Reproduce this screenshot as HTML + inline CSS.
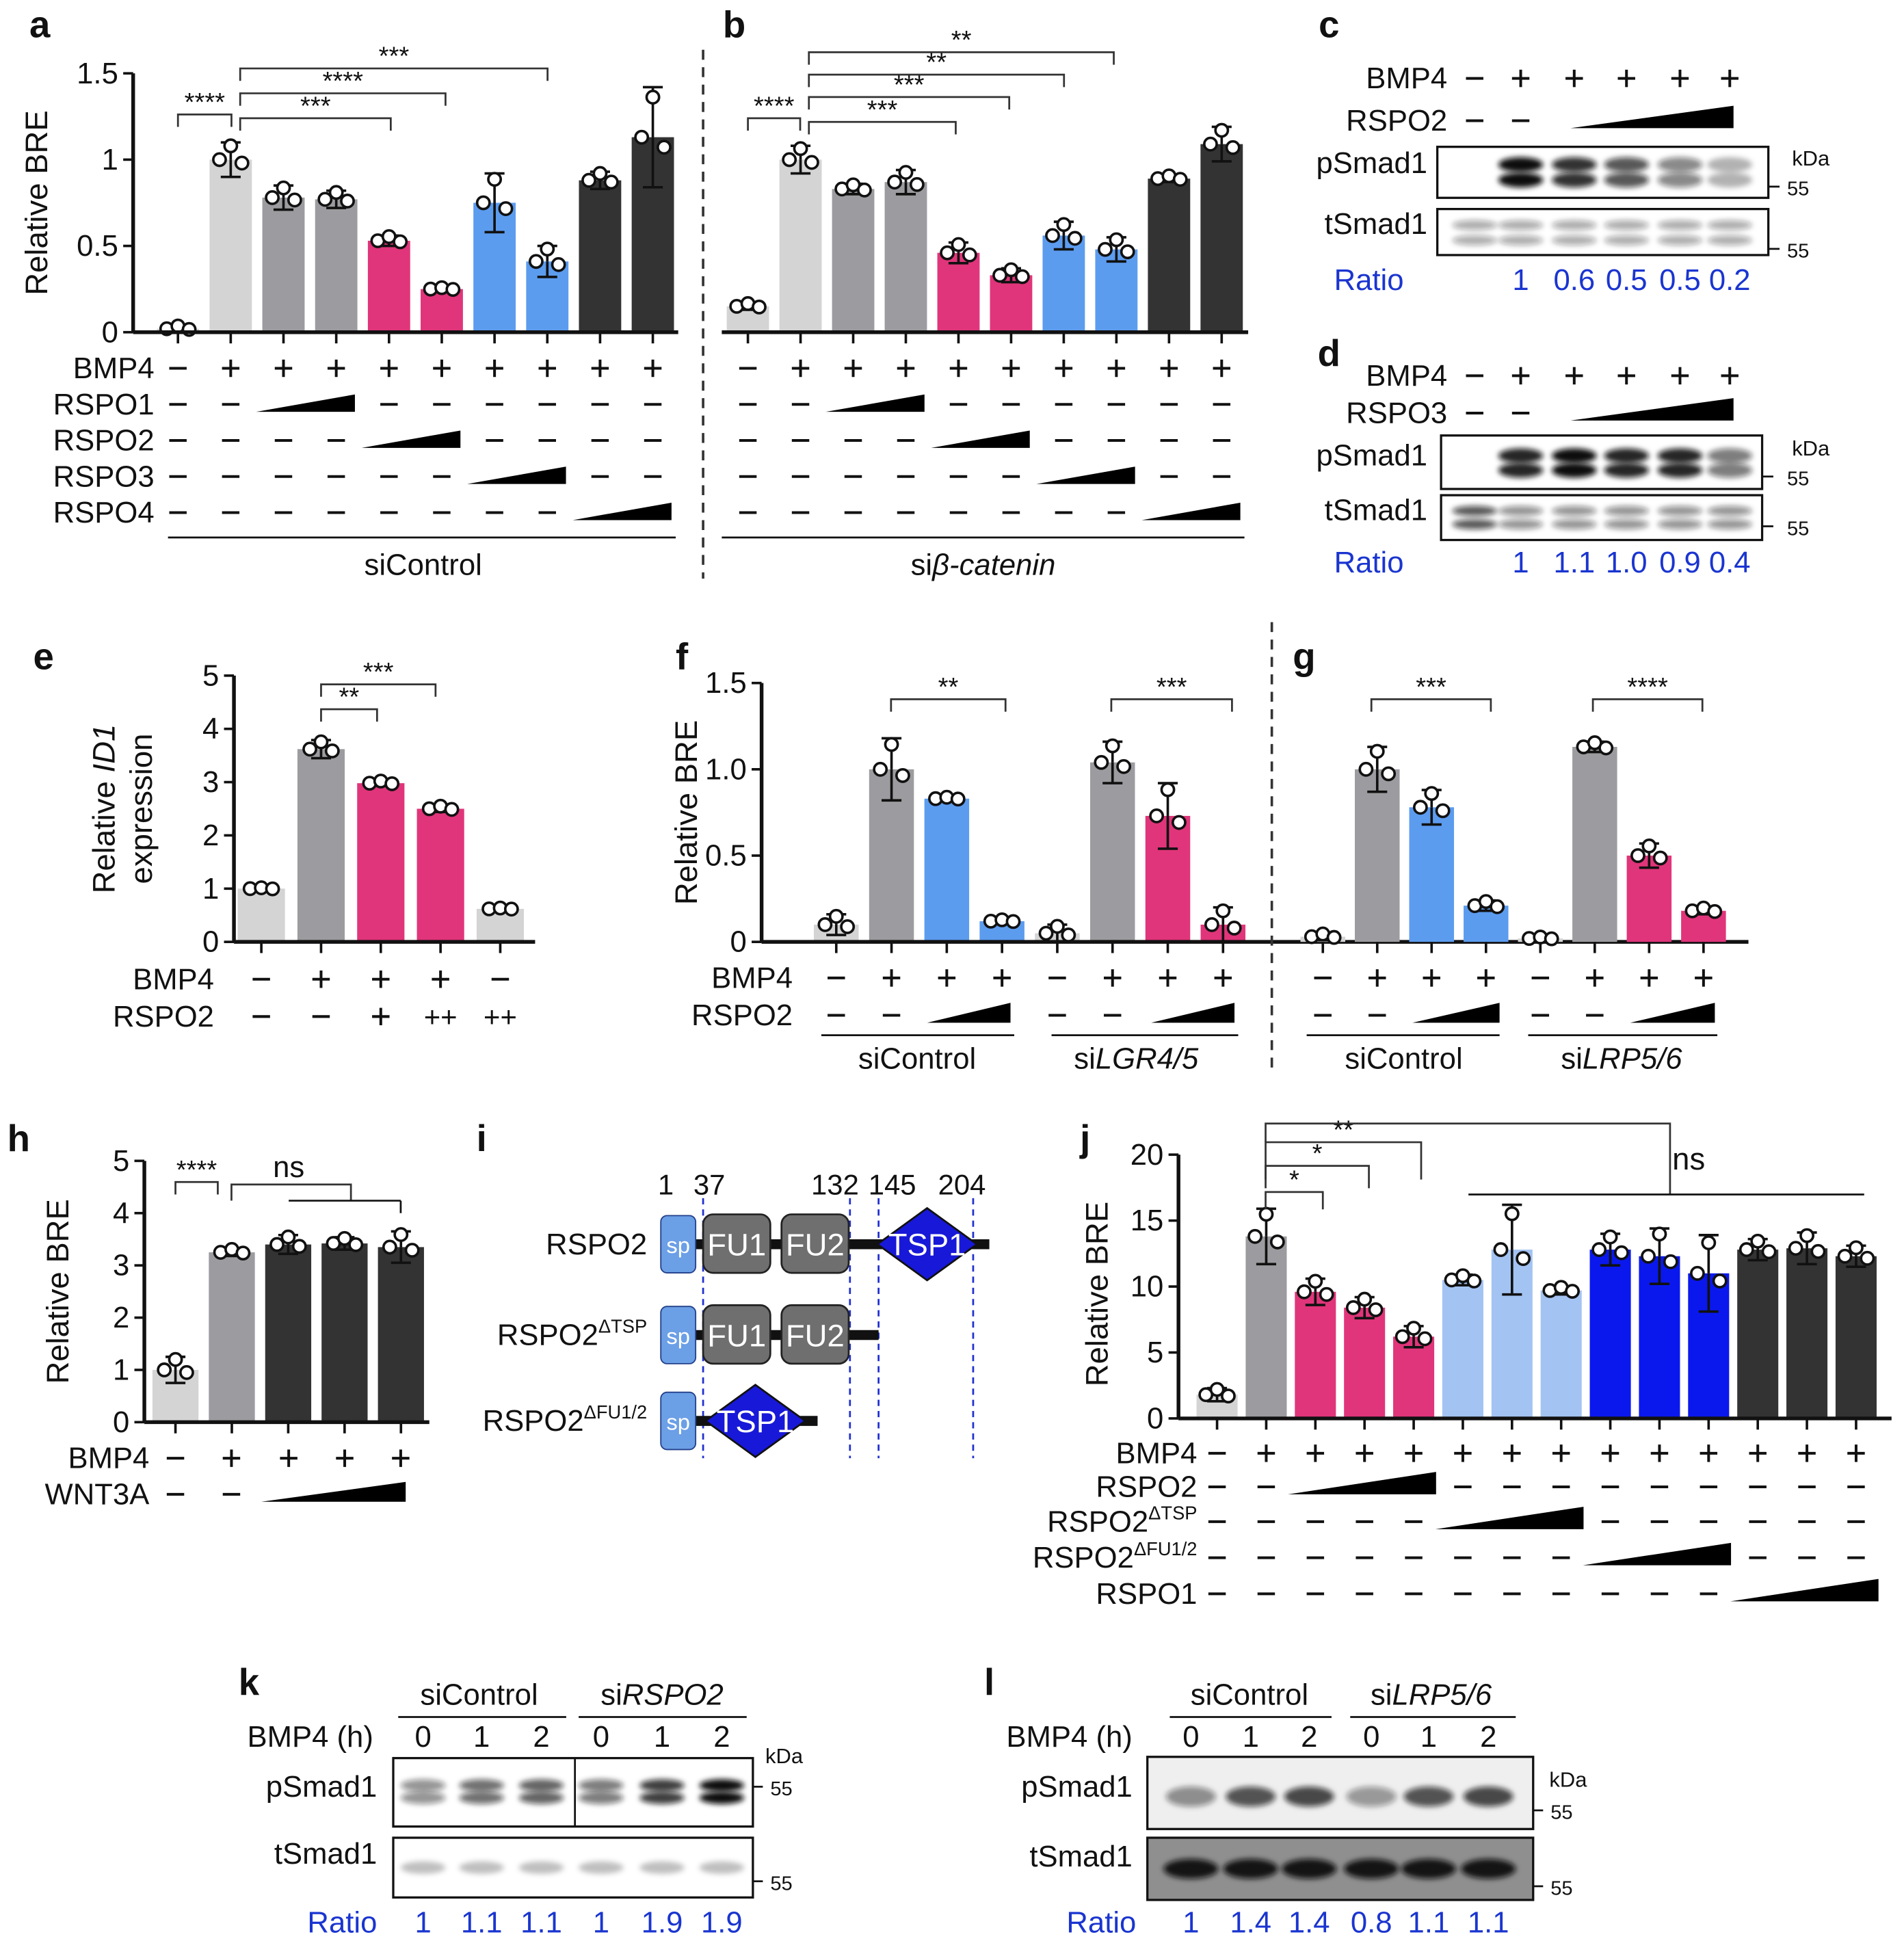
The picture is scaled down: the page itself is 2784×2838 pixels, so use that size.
<!DOCTYPE html>
<html><head><meta charset="utf-8">
<style>
html,body{margin:0;padding:0;background:#fff;}
svg{display:block;}
text{font-family:"Liberation Sans",Arial,sans-serif;}
</style></head>
<body>
<svg id="fig" xmlns="http://www.w3.org/2000/svg" width="2784" height="2838" viewBox="0 0 1530 1560" preserveAspectRatio="none">
<defs>
<filter id="blur" x="-20%" y="-50%" width="140%" height="200%"><feGaussianBlur stdDeviation="2.2"/></filter>
</defs>
</svg>
<script>
const NS='http://www.w3.org/2000/svg';
const svg=document.getElementById('fig');
// ---------- data ----------
const aValues=[0.02,1.0,0.78,0.77,0.53,0.25,0.75,0.41,0.88,1.13];
const aErr=[0.02,0.1,0.07,0.05,0.03,0.01,0.17,0.09,0.05,0.29];
const bValues=[0.15,1.0,0.83,0.87,0.46,0.33,0.56,0.48,0.89,1.09];
const bErr=[0.02,0.08,0.03,0.07,0.06,0.04,0.08,0.07,0.02,0.1];
const abColors=['#d4d4d4','#d4d4d4','#9c9ca0','#9c9ca0','#e0357a','#e0357a','#5c9cef','#5c9cef','#333333','#333333'];
const abTicks=[0,0.5,1,1.5];
const abTickLabels=['0','0.5','1','1.5'];
const eValues=[1.0,3.62,2.98,2.5,0.62];
const eErr=[0.02,0.17,0.05,0.06,0.02];
const eColors=['#d4d4d4','#9c9ca0','#e0357a','#e0357a','#d4d4d4'];
const eTicks=[0,1,2,3,4,5];
const fValues=[0.1,1.0,0.83,0.12,0.05,1.04,0.73,0.1];
const fErr=[0.06,0.18,0.01,0.01,0.05,0.12,0.19,0.1];
const fColors=['#d4d4d4','#9c9ca0','#5c9cef','#5c9cef','#d4d4d4','#9c9ca0','#e0357a','#e0357a'];
const gValues=[0.03,1.0,0.78,0.21,0.02,1.13,0.5,0.18];
const gErr=[0.02,0.13,0.1,0.03,0.01,0.03,0.07,0.02];
const gColors=fColors;
const fTicks=[0,0.5,1.0,1.5];
const fTickLabels=['0','0.5','1.0','1.5'];
const hValues=[1.0,3.25,3.4,3.42,3.35];
const hErr=[0.25,0.07,0.18,0.12,0.3];
const hColors=['#d4d4d4','#9c9ca0','#333333','#333333','#333333'];
const hTicks=[0,1,2,3,4,5];
const jValues=[1.8,13.8,9.6,8.4,6.2,10.5,12.8,9.7,12.8,12.3,11.0,12.8,12.9,12.3];
const jErr=[0.5,2.1,1.0,0.8,0.8,0.4,3.4,0.3,1.2,2.1,2.9,0.8,1.2,0.8];
const jColors=['#d4d4d4','#9c9ca0','#e0357a','#e0357a','#e0357a','#a3c3f3','#a3c3f3','#a3c3f3','#0a18ee','#0a18ee','#0a18ee','#333333','#333333','#333333'];
const jTicks=[0,5,10,15,20];
const cRatios=['1','0.6','0.5','0.5','0.2'];
const cBand=[0,1,0.85,0.7,0.5,0.3];
const dRatios=['1','1.1','1.0','0.9','0.4'];
const dBand=[0,0.9,1,0.9,0.9,0.55];
const kRatios=['1','1.1','1.1','1','1.9','1.9'];
const kBand=[0.45,0.6,0.65,0.55,0.8,1];
const lRatios=['1','1.4','1.4','0.8','1.1','1.1'];
const lBand=[0.45,0.7,0.75,0.4,0.7,0.75];

// ---------- helpers ----------
function mk(tag,attrs,name){
  const el=document.createElementNS(NS,tag);
  for(const k in attrs) el.setAttribute(k,attrs[k]);
  
  
  svg.appendChild(el);return el;
}
function txt(x,y,s,name,opt){
  opt=opt||{};
  const el=mk('text',{x:x,y:y,'font-size':opt.size||23,'text-anchor':opt.anchor||'middle','font-weight':opt.bold?'bold':'normal','font-style':opt.italic?'italic':'normal',fill:opt.fill||'#111'},name);
  if(opt.html) el.innerHTML=s; else el.textContent=s;
  if(opt.rot) el.setAttribute('transform','rotate(-90 '+x+' '+y+')');
  return el;
}
function line(x1,y1,x2,y2,name,w,col,dash){
  const el=mk('line',{x1:x1,y1:y1,x2:x2,y2:y2,stroke:col||'#111','stroke-width':w||2},name);
  if(dash) el.setAttribute('stroke-dasharray',dash);
  return el;
}
function chart(c){
  const ys=v=>c.y0-v*c.per;
  for(let i=0;i<c.values.length;i++){
    const cx=c.start+i*c.step, v=c.values[i], e=c.err[i];
    mk('rect',{x:cx-c.w/2,y:ys(v),width:c.w,height:c.y0-ys(v),fill:c.colors[i]},c.id+'-bar-'+(i+1));
    line(cx,ys(v),cx,ys(v+e),c.id+'-errorbar',2);
    line(cx-8,ys(v+e),cx+8,ys(v+e),c.id+'-errorcap',2);
    line(cx,ys(v),cx,ys(Math.max(0,v-e)),c.id+'-errorbar-low',2);
    line(cx-8,ys(Math.max(0,v-e)),cx+8,ys(Math.max(0,v-e)),c.id+'-errorcap-low',2);
    const pts=[[cx-9,v],[cx,v+e*0.8],[cx+9,v-e*0.2]];
    pts.forEach(p=>{mk('circle',{cx:p[0],cy:ys(p[1]),r:5,fill:'#fff',stroke:'#111','stroke-width':2},c.id+'-data-point');});
    line(cx,c.y0,cx,c.y0+9,c.id+'-x-tick',2);
  }
  line(c.ax,c.y0,c.xend,c.y0,c.id+'-x-axis',3);
  if(c.ticks){
    line(c.ax,c.y0,c.ax,ys(c.ticks[c.ticks.length-1]),c.id+'-y-axis',3);
    c.ticks.forEach((t,i)=>{
      line(c.ax-8,ys(t),c.ax,ys(t),c.id+'-y-tick',2);
      txt(c.ax-12,ys(t)+8,c.tickLabels?c.tickLabels[i]:String(t),c.id+'-y-tick-label',{anchor:'end',size:24});
    });
  }
}
function signs(y,xs,pattern,name){
  for(let i=0;i<pattern.length;i++){
    const ch=pattern[i];
    if(ch==='-') line(xs[i]-7,y,xs[i]+7,y,name+'-minus',2.2);
    else if(ch==='+'){line(xs[i]-7,y,xs[i]+7,y,name+'-plus',2.2);line(xs[i],y-7,xs[i],y+7,name+'-plus',2.2);}
  }
}
function wedge(x1,x2,y,name,h){
  h=h||14;
  mk('polygon',{points:x1+','+(y+6)+' '+x2+','+(y+6)+' '+x2+','+(y+6-h),fill:'#000'},name);
}
function bracket(x1,x2,y,label,name,d){
  d=d||10;
  mk('polyline',{points:x1+','+(y+d)+' '+x1+','+y+' '+x2+','+y+' '+x2+','+(y+d),fill:'none',stroke:'#333','stroke-width':1.5},name);
  txt((x1+x2)/2,y-3,label,name+'-label',{size:21});
}
function blot(x,y,w,h,lanes,band,name,opt){
  opt=opt||{};
  mk('rect',{x:x,y:y,width:w,height:h,fill:opt.bg||'#fff',stroke:'#111','stroke-width':1.8},name+'-box');
  lanes.forEach((lx,i)=>{
    const a=band[i]; if(a<=0) return;
    (opt.rows||[0.4,0.65]).forEach(r=>{
      mk('ellipse',{cx:lx,cy:y+h*r,rx:(opt.bw||20),ry:(opt.bh||5),fill:opt.col||'#111','fill-opacity':a,filter:'url(#blur)'},name+'-band');
    });
  });
}
function rowLabel(x,y,s,name,html){return txt(x,y+8,s,name,{anchor:'end',size:24,html:html});}
const BLUE='#1a35d0';

// ---------- panel a / b ----------
txt(32,30,'a','panel-label-a',{bold:true,size:30});
txt(590,30,'b','panel-label-b',{bold:true,size:30});
txt(38,163,'Relative BRE','a-y-axis-title',{rot:true,size:25});
chart({id:'a',values:aValues,err:aErr,colors:abColors,start:143,step:42.4,w:34,y0:267,per:138.7,ax:107,xend:545,ticks:abTicks,tickLabels:abTickLabels});
chart({id:'b',values:bValues,err:bErr,colors:abColors,start:601,step:42.3,w:34,y0:267,per:138.7,ax:580,xend:1003});
line(565,40,565,465,'ab-divider',2,'#333','8,6');
bracket(143,186,92,'****','a-sig-1');
bracket(193,314,95,'***','a-sig-2');
bracket(193,358,75,'****','a-sig-3');
bracket(193,440,55,'***','a-sig-4');
bracket(601,643,95,'****','b-sig-1');
bracket(650,768,98,'***','b-sig-2');
bracket(650,811,78,'***','b-sig-3');
bracket(650,855,60,'**','b-sig-4');
bracket(650,895,42,'**','b-sig-5');
const aX=[...Array(10).keys()].map(i=>143+i*42.4), bX=[...Array(10).keys()].map(i=>601+i*42.3);
const rowsAB=[['BMP4',296,'-+++++++++'],['RSPO1',325,'--  ------'],['RSPO2',354,'----  ----'],['RSPO3',383,'------  --'],['RSPO4',412,'--------  ']];
rowsAB.forEach((r,k)=>{
  rowLabel(124,r[1],r[0],'a-row-label-'+r[0].toLowerCase());
  signs(r[1],aX,r[2],'a-'+r[0].toLowerCase());
  signs(r[1],bX,r[2],'b-'+r[0].toLowerCase());
  if(k>0){const i=2*k; wedge(aX[i]-22,aX[i+1]+15,r[1],'a-wedge-'+r[0].toLowerCase()); wedge(bX[i]-22,bX[i+1]+15,r[1],'b-wedge-'+r[0].toLowerCase());}
});
line(135,432,543,432,'a-group-line',1.5);
txt(340,462,'siControl','a-group-label',{size:24});
line(580,432,1000,432,'b-group-line',1.5);
txt(790,462,'si<tspan font-style="italic">β-catenin</tspan>','b-group-label',{size:24,html:true});

// ---------- panel c / d ----------
const cX=[1185,1222,1265,1307,1350,1390];
txt(1068,30,'c','panel-label-c',{bold:true,size:30});
rowLabel(1163,63,'BMP4','c-bmp4-label'); signs(63,cX,'-+++++','c-bmp4');
rowLabel(1163,97,'RSPO2','c-rspo2-label'); signs(97,cX,'--    ','c-rspo2'); wedge(1262,1393,97,'c-wedge',18);
blot(1155,118,266,41,cX,cBand,'c-psmad1',{rows:[0.35,0.65],bh:6,bw:18});
blot(1155,168,266,37,cX,cBand.map(()=>0.35),'c-tsmad1',{rows:[0.35,0.68],bh:4,bw:18});
rowLabel(1147,131,'pSmad1','c-psmad1-label'); rowLabel(1147,180,'tSmad1','c-tsmad1-label');
txt(1440,133,'kDa','c-kda',{anchor:'start',size:17}); line(1421,150,1430,150,'c-55-tick',1.5); txt(1436,157,'55','c-55-label',{anchor:'start',size:16});
line(1421,200,1430,200,'c-55-tick-2',1.5); txt(1436,207,'55','c-55-label-2',{anchor:'start',size:16});
txt(1100,233,'Ratio','c-ratio-label',{size:24,fill:BLUE});
cRatios.forEach((r,i)=>txt(cX[i+1],233,r,'c-ratio-value',{size:24,fill:BLUE}));

txt(1068,294,'d','panel-label-d',{bold:true,size:30});
rowLabel(1163,302,'BMP4','d-bmp4-label'); signs(302,cX,'-+++++','d-bmp4');
rowLabel(1163,332,'RSPO3','d-rspo3-label'); signs(332,cX,'--    ','d-rspo3'); wedge(1262,1393,332,'d-wedge',18);
blot(1158,350,258,43,cX,dBand,'d-psmad1',{rows:[0.38,0.65],bh:6,bw:18});
blot(1158,398,258,36,cX,dBand.map((v,i)=>i===0?0.7:0.45),'d-tsmad1',{rows:[0.35,0.65],bh:4,bw:18});
rowLabel(1147,366,'pSmad1','d-psmad1-label'); rowLabel(1147,410,'tSmad1','d-tsmad1-label');
txt(1440,366,'kDa','d-kda',{anchor:'start',size:17}); line(1416,383,1425,383,'d-55-tick',1.5); txt(1436,390,'55','d-55-label',{anchor:'start',size:16});
line(1416,423,1425,423,'d-55-tick-2',1.5); txt(1436,430,'55','d-55-label-2',{anchor:'start',size:16});
txt(1100,460,'Ratio','d-ratio-label',{size:24,fill:BLUE});
dRatios.forEach((r,i)=>txt(cX[i+1],460,r,'d-ratio-value',{size:24,fill:BLUE}));

// ---------- panel e ----------
txt(35,538,'e','panel-label-e',{bold:true,size:30});
txt(92,650,'Relative <tspan font-style="italic">ID1</tspan>','e-y-axis-title',{rot:true,size:25,html:true});
txt(122,650,'expression','e-y-axis-title-2',{rot:true,size:25});
chart({id:'e',values:eValues,err:eErr,colors:eColors,start:210,step:48,w:38,y0:757,per:42.8,ax:188,xend:430,ticks:eTicks});
bracket(258,303,570,'**','e-sig-1'); bracket(258,350,550,'***','e-sig-2');
const eX=[210,258,306,354,402];
rowLabel(172,787,'BMP4','e-bmp4-label'); signs(787,eX,'-+++-','e-bmp4');
rowLabel(172,817,'RSPO2','e-rspo2-label'); signs(817,eX,'--+  ','e-rspo2');
txt(354,825,'++','e-rspo2-pp',{size:23}); txt(402,825,'++','e-rspo2-pp2',{size:23});

// ---------- panel f / g ----------
txt(548,538,'f','panel-label-f',{bold:true,size:30});
txt(1048,538,'g','panel-label-g',{bold:true,size:30});
txt(560,653,'Relative BRE','f-y-axis-title',{rot:true,size:25});
chart({id:'f',values:fValues,err:fErr,colors:fColors,start:672,step:44.4,w:36,y0:757,per:138.7,ax:612,xend:1405,ticks:fTicks,tickLabels:fTickLabels});
chart({id:'g',values:gValues,err:gErr,colors:gColors,start:1063,step:43.7,w:36,y0:757,per:138.7,ax:1022,xend:1022});
line(1022,500,1022,860,'fg-divider',2,'#333','8,6');
bracket(716,808,562,'**','f-sig-1'); bracket(893,990,562,'***','f-sig-2');
bracket(1102,1198,562,'***','g-sig-1'); bracket(1280,1368,562,'****','g-sig-2');
const fX=[...Array(8).keys()].map(i=>672+i*44.4), gX=[...Array(8).keys()].map(i=>1063+i*43.7);
rowLabel(637,786,'BMP4','f-bmp4-label'); signs(786,fX,'-+++-+++','f-bmp4'); signs(786,gX,'-+++-+++','g-bmp4');
rowLabel(637,816,'RSPO2','f-rspo2-label'); signs(816,fX,'--  --  ','f-rspo2'); signs(816,gX,'--  --  ','g-rspo2');
wedge(745,812,816,'f-wedge-1',16); wedge(925,992,816,'f-wedge-2',16); wedge(1135,1205,816,'g-wedge-1',16); wedge(1310,1378,816,'g-wedge-2',16);
line(660,832,815,832,'f-group-line-1',1.5); txt(737,859,'siControl','f-group-label-1',{size:24});
line(845,832,995,832,'f-group-line-2',1.5); txt(913,859,'si<tspan font-style="italic">LGR4/5</tspan>','f-group-label-2',{size:24,html:true});
line(1050,832,1205,832,'g-group-line-1',1.5); txt(1128,859,'siControl','g-group-label-1',{size:24});
line(1228,832,1380,832,'g-group-line-2',1.5); txt(1303,859,'si<tspan font-style="italic">LRP5/6</tspan>','g-group-label-2',{size:24,html:true});

// ---------- panel h ----------
txt(15,925,'h','panel-label-h',{bold:true,size:30});
txt(55,1038,'Relative BRE','h-y-axis-title',{rot:true,size:25});
chart({id:'h',values:hValues,err:hErr,colors:hColors,start:141,step:45.3,w:37,y0:1143,per:42,ax:116,xend:345,ticks:hTicks});
bracket(141,175,950,'****','h-sig-1');
mk('polyline',{points:'186,965 186,952 282,952 282,965',fill:'none',stroke:'#333','stroke-width':1.5},'h-ns-bracket');
line(232,965,322,965,'h-ns-line',1.5); line(322,965,322,975,'h-ns-line-end',1.5);
txt(232,946,'ns','h-ns-label',{size:24});
const hX=[141,186,232,277,322];
rowLabel(120,1172,'BMP4','h-bmp4-label'); signs(1172,hX,'-++++','h-bmp4');
rowLabel(120,1201,'WNT3A','h-wnt3a-label'); signs(1201,hX,'--   ','h-wnt3a'); wedge(210,326,1201,'h-wedge',16);

// ---------- panel i ----------
txt(387,925,'i','panel-label-i',{bold:true,size:30});
[['1',535],['37',570],['132',671],['145',717],['204',773]].forEach(p=>txt(p[1],960,p[0],'i-position-label',{size:23}));
[565,683,706,782].forEach(x=>line(x,963,x,1172,'i-domain-boundary',1.5,'#2030d0','5,4'));
function domainRow(y,parts,endX){
  line(555,y,endX,y,'i-backbone',8,'#111');
  mk('rect',{x:531,y:y-23,width:28,height:46,rx:5,fill:'#6b9fe6',stroke:'#24408a','stroke-width':1},'i-sp-domain');
  txt(545,y+7,'sp','i-sp-label',{size:18,fill:'#fff'});
  parts.forEach(p=>{
    if(p[0]==='TSP1'){
      mk('polygon',{points:(p[1]-40)+','+y+' '+p[1]+','+(y-29)+' '+(p[1]+40)+','+y+' '+p[1]+','+(y+29),fill:'#1818d8',stroke:'#111','stroke-width':1.5},'i-tsp1-domain');
      txt(p[1],y+9,'TSP1','i-tsp1-label',{size:25,fill:'#fff'});
    } else {
      mk('rect',{x:p[1]-27,y:y-24,width:54,height:47,rx:8,fill:'#6f6f6f',stroke:'#222','stroke-width':1.5},'i-'+p[0].toLowerCase()+'-domain');
      txt(p[1],y+9,p[0],'i-'+p[0].toLowerCase()+'-label',{size:25,fill:'#fff'});
    }
  });
}
rowLabel(520,1000,'RSPO2','i-rspo2-label');
domainRow(1000,[['FU1',592],['FU2',655],['TSP1',745]],795);
rowLabel(520,1073,'RSPO2<tspan font-size="15" dy="-10">ΔTSP</tspan>','i-rspo2-dtsp-label',true);
domainRow(1073,[['FU1',592],['FU2',655]],706);
rowLabel(520,1142,'RSPO2<tspan font-size="15" dy="-10">ΔFU1/2</tspan>','i-rspo2-dfu-label',true);
domainRow(1142,[['TSP1',607]],657);

// ---------- panel j ----------
txt(872,925,'j','panel-label-j',{bold:true,size:30});
txt(890,1040,'Relative BRE','j-y-axis-title',{rot:true,size:25});
chart({id:'j',values:jValues,err:jErr,colors:jColors,start:978,step:39.5,w:33,y0:1140,per:10.6,ax:947,xend:1520,ticks:jTicks});
bracket(1017,1063,958,'*','j-sig-1',14); bracket(1017,1100,937,'*','j-sig-2',18); bracket(1017,1142,918,'**','j-sig-3',30);
mk('polyline',{points:'1017,918 1017,903 1342,903 1342,960',fill:'none',stroke:'#333','stroke-width':1.5},'j-ns-bracket');
line(1180,960,1498,960,'j-ns-line',1.5);
txt(1357,940,'ns','j-ns-label',{size:25});
const jX=[...Array(14).keys()].map(i=>978+i*39.5);
rowLabel(962,1168,'BMP4','j-bmp4-label'); signs(1168,jX,'-+++++++++++++','j-bmp4');
const jRows=[['RSPO2',1195,'--   ---------',2],['RSPO2<tspan font-size="15" dy="-10">ΔTSP</tspan>',1223,'-----   ------',5],['RSPO2<tspan font-size="15" dy="-10">ΔFU1/2</tspan>',1252,'--------   ---',8],['RSPO1',1281,'-----------   ',11]];
jRows.forEach((r,k)=>{
  rowLabel(962,r[1],r[0],'j-row-label-'+k,true);
  signs(r[1],jX,r[2],'j-row-'+k);
  wedge(jX[r[3]]-22,jX[r[3]+2]+18,r[1],'j-wedge-'+k,18);
});

// ---------- panel k ----------
txt(200,1362,'k','panel-label-k',{bold:true,size:30});
const kX=[340,387,435,483,532,580];
txt(385,1370,'siControl','k-group-label-1',{size:24}); line(320,1380,455,1380,'k-group-line-1',1.5);
txt(532,1370,'si<tspan font-style="italic">RSPO2</tspan>','k-group-label-2',{size:24,html:true}); line(465,1380,600,1380,'k-group-line-2',1.5);
rowLabel(300,1396,'BMP4 (h)','k-bmp4-label');
['0','1','2','0','1','2'].forEach((t,i)=>txt(kX[i],1404,t,'k-time-label',{size:24}));
blot(316,1413,289,55,kX,kBand,'k-psmad1',{rows:[0.4,0.58],bh:5,bw:18});
line(462,1413,462,1468,'k-psmad1-separator',1.5);
blot(316,1477,289,48,kX,kBand.map(()=>0.25),'k-tsmad1',{rows:[0.5],bh:5,bw:18});
rowLabel(303,1436,'pSmad1','k-psmad1-label'); rowLabel(303,1490,'tSmad1','k-tsmad1-label');
txt(615,1417,'kDa','k-kda',{anchor:'start',size:17}); line(605,1436,613,1436,'k-55-tick',1.5); txt(619,1443,'55','k-55',{anchor:'start',size:16});
line(605,1512,613,1512,'k-55-tick-2',1.5); txt(619,1519,'55','k-55-2',{anchor:'start',size:16});
txt(275,1553,'Ratio','k-ratio-label',{size:24,fill:BLUE});
kRatios.forEach((r,i)=>txt(kX[i],1553,r,'k-ratio-value',{size:24,fill:BLUE}));

// ---------- panel l ----------
txt(795,1362,'l','panel-label-l',{bold:true,size:30});
const lX=[957,1005,1052,1102,1148,1196];
txt(1004,1370,'siControl','l-group-label-1',{size:24}); line(940,1380,1070,1380,'l-group-line-1',1.5);
txt(1150,1370,'si<tspan font-style="italic">LRP5/6</tspan>','l-group-label-2',{size:24,html:true}); line(1085,1380,1218,1380,'l-group-line-2',1.5);
rowLabel(910,1396,'BMP4 (h)','l-bmp4-label');
['0','1','2','0','1','2'].forEach((t,i)=>txt(lX[i],1404,t,'l-time-label',{size:24}));
blot(922,1412,310,58,lX,lBand,'l-psmad1',{rows:[0.55],bh:8,bw:20,bg:'#efefef'});
blot(922,1477,310,50,lX,lBand.map(()=>0.95),'l-tsmad1',{rows:[0.5],bh:8,bw:22,bg:'#8f8f8f'});
rowLabel(910,1436,'pSmad1','l-psmad1-label'); rowLabel(910,1492,'tSmad1','l-tsmad1-label');
txt(1245,1436,'kDa','l-kda',{anchor:'start',size:17}); line(1232,1455,1240,1455,'l-55-tick',1.5); txt(1246,1462,'55','l-55',{anchor:'start',size:16});
line(1232,1516,1240,1516,'l-55-tick-2',1.5); txt(1246,1523,'55','l-55-2',{anchor:'start',size:16});
txt(885,1553,'Ratio','l-ratio-label',{size:24,fill:BLUE});
lRatios.forEach((r,i)=>txt(lX[i],1553,r,'l-ratio-value',{size:24,fill:BLUE}));
</script>
</body></html>
